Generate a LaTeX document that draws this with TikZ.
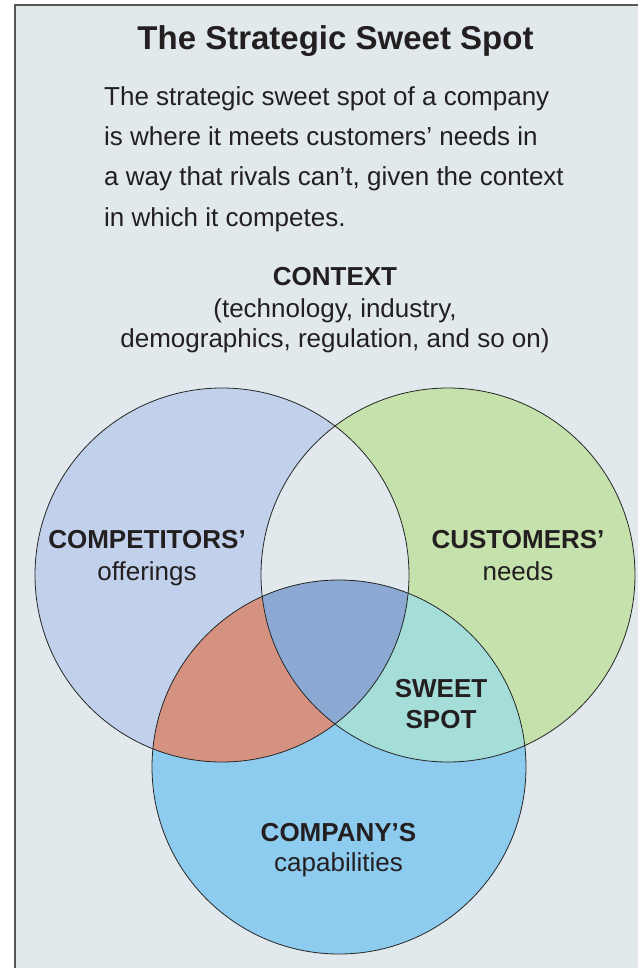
\documentclass[tikz,border=0pt]{standalone}
\usepackage{fontspec}
\setmainfont{Liberation Sans}
\definecolor{bgc}{RGB}{225,233,236}
\definecolor{framec}{RGB}{85,85,85}
\definecolor{txt}{RGB}{35,31,32}
\definecolor{compc}{RGB}{193,208,235}
\definecolor{custc}{RGB}{197,225,172}
\definecolor{compyc}{RGB}{141,203,239}
\definecolor{salmonc}{RGB}{214,146,128}
\definecolor{tealc}{RGB}{165,221,216}
\definecolor{centerc}{RGB}{139,169,210}
\tikzset{
  lbl/.style={anchor=base, inner sep=0pt, text=txt},
  bodytxt/.style={anchor=base west, inner sep=0pt, text=txt, font=\fontsize{26}{39}\selectfont},
  big/.style={font=\fontsize{26}{32}\selectfont\bfseries},
  small/.style={font=\fontsize{26}{32}\selectfont},
  ring/.style={draw=black!85, line width=0.8pt}
}
\begin{document}
\begin{tikzpicture}[x=1pt,y=-1pt]
\useasboundingbox (0,0) rectangle (638,968);
\fill[white] (0,0) rectangle (638,968);
\fill[bgc] (15,5) rectangle (638,968);
\draw[framec, line width=1.7pt] (15,968) -- (15,5) -- (638,5);

\coordinate (L) at (222,575);
\coordinate (R) at (448,575);
\coordinate (B) at (339,767);

% base fills
\fill[compc] (L) circle (187pt);
\fill[custc] (R) circle (187pt);
\fill[compyc] (B) circle (187pt);
% intersections
\begin{scope}
  \clip (L) circle (187pt);
  \fill[bgc] (R) circle (187pt);
  \fill[salmonc] (B) circle (187pt);
\end{scope}
\begin{scope}
  \clip (R) circle (187pt);
  \fill[tealc] (B) circle (187pt);
\end{scope}
\begin{scope}
  \clip (L) circle (187pt);
  \clip (R) circle (187pt);
  \fill[centerc] (B) circle (187pt);
\end{scope}
% outlines
\draw[ring] (L) circle (187pt);
\draw[ring] (R) circle (187pt);
\draw[ring] (B) circle (187pt);

% title and text
\node[lbl, font=\fontsize{33}{40}\selectfont\bfseries] (title) at (335.5,49.3) {The Strategic Sweet Spot};
\node[bodytxt] (b1) at (104,106) {The strategic sweet spot of a company};
\node[bodytxt] (b2) at (104,146) {is where it meets customers’ needs in};
\node[bodytxt] (b3) at (104,186) {a way that rivals can’t, given the context};
\node[bodytxt] (b4) at (104,226) {in which it competes.};

\node[lbl, big] (ctx) at (335,285) {CONTEXT};
\node[lbl, small] (ctx2) at (335,317) {(technology, industry,};
\node[lbl, small] (ctx3) at (335,347) {demographics, regulation, and so on)};

\node[lbl, big] (comp) at (147,548) {COMPETITORS’};
\node[lbl, small] (comp2) at (147,580) {offerings};
\node[lbl, big] (cust) at (518,548) {CUSTOMERS’};
\node[lbl, small] (cust2) at (518,580) {needs};
\node[lbl, big] (sw1) at (441,697) {SWEET};
\node[lbl, big] (sw2) at (441,728) {SPOT};
\node[lbl, big] (cy1) at (338.5,841) {COMPANY’S};
\node[lbl, small] (cy2) at (338.5,871) {capabilities};
\end{tikzpicture}
\end{document}
